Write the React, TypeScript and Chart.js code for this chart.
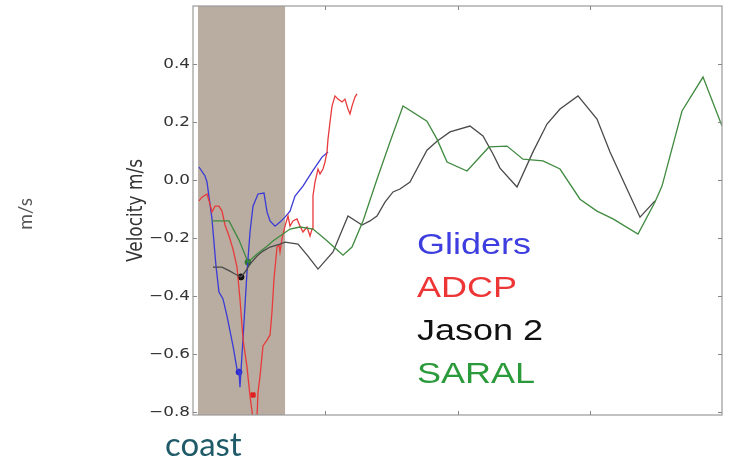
import React, { useEffect, useRef } from "react";
import { Chart, registerables } from "chart.js";

Chart.register(...registerables);

// Distance along section (arbitrary km, 0..100) and velocity (m/s)
const glidersX = [1.13, 2.27, 2.65, 3.59, 4.35, 4.91, 5.67, 6.43, 7.56, 8.32, 8.7, 8.88, 9.45, 10.21, 10.78, 11.34, 12.29, 13.42, 13.99, 14.56, 15.5, 16.45, 17.39, 18.34, 19.28, 20.79, 22.5, 24.39, 25.52];
const glidersY = [0.045, 0.014, -0.007, -0.134, -0.297, -0.386, -0.41, -0.469, -0.572, -0.652, -0.662, -0.714, -0.548, -0.317, -0.179, -0.09, -0.048, -0.045, -0.11, -0.141, -0.159, -0.145, -0.128, -0.107, -0.055, -0.021, 0.028, 0.079, 0.097];

const adcpX = [1.13, 1.7, 2.65, 3.21, 3.59, 4.16, 4.91, 5.48, 6.05, 6.81, 7.56, 8.32, 8.88, 9.45, 10.21, 10.78, 11.34, 12.1, 12.29, 12.67, 13.23, 13.99, 14.56, 14.93, 15.31, 15.88, 16.26, 16.45, 16.82, 17.39, 17.96, 18.34, 18.9, 19.66, 20.23, 20.79, 21.55, 22.12, 22.5, 22.68, 23.06, 23.63, 24.01, 24.57, 24.95, 25.33, 25.52, 25.9, 26.28, 26.84, 27.41, 28.17, 28.73, 29.3, 29.68, 30.06, 30.62, 31.0];
const adcpY = [-0.072, -0.059, -0.048, -0.083, -0.11, -0.09, -0.09, -0.107, -0.155, -0.193, -0.238, -0.3, -0.41, -0.548, -0.645, -0.745, -0.824, -0.817, -0.731, -0.676, -0.572, -0.552, -0.534, -0.455, -0.341, -0.231, -0.224, -0.248, -0.203, -0.159, -0.124, -0.159, -0.141, -0.134, -0.159, -0.179, -0.162, -0.193, -0.169, -0.055, -0.007, 0.038, 0.021, 0.038, 0.062, 0.097, 0.141, 0.2, 0.255, 0.29, 0.279, 0.269, 0.279, 0.245, 0.228, 0.255, 0.286, 0.297];

const jasonX = [3.78, 5.48, 6.99, 7.94, 9.07, 9.83, 10.78, 12.1, 13.23, 14.56, 16.45, 17.39, 19.85, 21.74, 23.63, 26.47, 29.3, 31.95, 33.46, 34.78, 36.29, 37.81, 39.13, 41.02, 42.53, 44.23, 46.12, 48.58, 52.36, 54.82, 56.71, 58.03, 61.25, 64.27, 66.92, 69.38, 72.78, 76.37, 78.83, 82.04, 84.5, 87.33];
const jasonY = [-0.3, -0.3, -0.314, -0.324, -0.334, -0.317, -0.29, -0.262, -0.245, -0.231, -0.221, -0.214, -0.221, -0.262, -0.307, -0.248, -0.124, -0.155, -0.141, -0.124, -0.076, -0.041, -0.031, -0.007, 0.045, 0.103, 0.134, 0.166, 0.186, 0.152, 0.09, 0.041, -0.024, 0.097, 0.193, 0.245, 0.29, 0.21, 0.097, -0.031, -0.128, -0.072];

const saralX = [3.59, 6.81, 8.7, 10.4, 12.1, 13.99, 15.12, 16.45, 18.34, 20.23, 22.68, 24.95, 26.84, 28.36, 30.06, 32.14, 34.78, 37.24, 39.7, 44.23, 46.12, 48.02, 51.8, 55.95, 59.36, 62.38, 66.16, 69.38, 73.16, 76.37, 79.4, 84.12, 87.33, 88.66, 92.44, 96.41, 100.0];
const saralY = [-0.141, -0.141, -0.207, -0.283, -0.255, -0.228, -0.21, -0.193, -0.169, -0.162, -0.169, -0.203, -0.234, -0.259, -0.231, -0.141, 0.003, 0.131, 0.255, 0.203, 0.141, 0.062, 0.031, 0.114, 0.117, 0.072, 0.066, 0.038, -0.066, -0.107, -0.134, -0.186, -0.076, -0.021, 0.238, 0.355, 0.186];

// Highlighted points (coastal minima)
const glidersMarker = [{ x: 8.7, y: -0.662 }];
const adcpMarker = [{ x: 11.34, y: -0.741 }];
const jasonMarker = [{ x: 9.07, y: -0.334 }];
const saralMarker = [{ x: 10.4, y: -0.283 }];

// Coastal zone (shaded)
const coastStart = 0.95;
const coastEnd = 17.4;

const yTicks = [0.4, 0.2, 0.0, -0.2, -0.4, -0.6, -0.8];
const xTicks = [25, 50, 75];
const legendNames = ["Gliders", "ADCP", "Jason 2", "SARAL"];
const legendColors = ["#3d3de0", "#ee3535", "#111111", "#2a9a3a"];

const X_MIN = 0;
const X_MAX = 100;
const Y_MIN = -0.81;
const Y_MAX = 0.6;

const SX = 1.2; // horizontal stretch of figure text

function zip(xs: number[], ys: number[]) {
  return xs.map((x, i) => ({ x, y: ys[i] }));
}

function drawText(
  ctx: CanvasRenderingContext2D,
  s: string,
  x: number,
  y: number,
  font: string,
  color: string,
  align: CanvasTextAlign,
  baseline: CanvasTextBaseline,
  sx: number,
  rot = 0
) {
  ctx.save();
  ctx.translate(x, y);
  ctx.scale(sx, 1);
  if (rot) ctx.rotate(rot);
  ctx.font = font;
  ctx.fillStyle = color;
  ctx.textAlign = align;
  ctx.textBaseline = baseline;
  ctx.fillText(s, 0, 0);
  ctx.restore();
}

const figurePlugin = {
  id: "figure",
  beforeDatasetsDraw(chart: any) {
    const { ctx, chartArea, scales } = chart;
    const x0 = scales.x.getPixelForValue(coastStart);
    const x1 = scales.x.getPixelForValue(coastEnd);
    ctx.save();
    ctx.fillStyle = "#b9ada1";
    ctx.fillRect(x0, chartArea.top, x1 - x0, chartArea.bottom - chartArea.top);
    ctx.restore();
  },
  afterDatasetsDraw(chart: any) {
    const { ctx, chartArea, scales } = chart;
    const { left, right, top, bottom } = chartArea;
    ctx.save();
    // frame
    ctx.strokeStyle = "#9a9a9a";
    ctx.lineWidth = 1.2;
    ctx.strokeRect(left, top, right - left, bottom - top);
    // inner tick marks
    ctx.strokeStyle = "#888";
    ctx.lineWidth = 1;
    yTicks.forEach((v) => {
      const y = Math.round(scales.y.getPixelForValue(v)) + 0.5;
      ctx.beginPath();
      ctx.moveTo(left, y);
      ctx.lineTo(left + 4, y);
      ctx.moveTo(right, y);
      ctx.lineTo(right - 4, y);
      ctx.stroke();
    });
    xTicks.forEach((v) => {
      const x = Math.round(scales.x.getPixelForValue(v)) + 0.5;
      ctx.beginPath();
      ctx.moveTo(x, top);
      ctx.lineTo(x, top + 4);
      ctx.moveTo(x, bottom);
      ctx.lineTo(x, bottom - 4);
      ctx.stroke();
    });
    ctx.restore();

    // tick labels
    yTicks.forEach((v) => {
      const y = scales.y.getPixelForValue(v);
      const label = (v < 0 ? "\u2212" : "") + Math.abs(v).toFixed(1);
      drawText(ctx, label, left - 3, y, "14px 'DejaVu Sans', sans-serif", "#333", "right", "middle", SX);
    });

    // axis title
    const yc = (top + bottom) / 2;
    drawText(ctx, "Velocity m/s", 137, yc, "17px 'DejaVu Sans', sans-serif", "#333", "center", "middle", SX, -Math.PI / 2);

    // legend text
    const legendBase = [254, 297, 340, 383];
    legendNames.forEach((n, i) => {
      drawText(ctx, n, 417, legendBase[i], "30px 'Liberation Sans', Arial, sans-serif", legendColors[i], "left", "alphabetic", SX);
    });

    // slide annotations
    drawText(ctx, "m/s", 26, 214, "19px Lato, 'Open Sans', sans-serif", "#555", "center", "middle", 1, -Math.PI / 2);
    drawText(ctx, "coast", 165, 456, "33px Lato, 'Open Sans', sans-serif", "#1f5a68", "left", "alphabetic", 1);
  },
};

export default function App() {
  const ref = useRef<HTMLCanvasElement | null>(null);

  useEffect(() => {
    if (!ref.current) return;
    const lineDs = (label: string, data: any[], color: string) => ({
      label,
      data,
      borderColor: color,
      backgroundColor: color,
      borderWidth: 1.3,
      pointRadius: 0,
      tension: 0,
      fill: false,
    });
    const markDs = (label: string, data: any[], color: string, style: string) => ({
      label,
      data,
      borderColor: color,
      backgroundColor: color,
      showLine: false,
      pointRadius: 3,
      pointStyle: style,
      borderWidth: 1,
    });
    const chart = new Chart(ref.current, {
      type: "line",
      data: {
        datasets: [
          lineDs("SARAL", zip(saralX, saralY), "#3f8a3f"),
          lineDs("Jason 2", zip(jasonX, jasonY), "#4a4a4a"),
          lineDs("ADCP", zip(adcpX, adcpY), "#e83a3a"),
          lineDs("Gliders", zip(glidersX, glidersY), "#3a3ad6"),
          markDs("SARAL mark", saralMarker, "#2f7a2f", "circle"),
          markDs("Jason mark", jasonMarker, "#111", "circle"),
          markDs("ADCP mark", adcpMarker, "#e02020", "rect"),
          markDs("Gliders mark", glidersMarker, "#2a2ad0", "circle"),
        ] as any,
      },
      options: {
        animation: false,
        responsive: true,
        maintainAspectRatio: false,
        layout: { padding: { left: 193, right: 8, top: 6, bottom: 44 } },
        plugins: { legend: { display: false }, tooltip: { enabled: false } },
        scales: {
          x: { type: "linear", min: X_MIN, max: X_MAX, display: false },
          y: { type: "linear", min: Y_MIN, max: Y_MAX, display: false },
        },
      },
      plugins: [figurePlugin],
    });
    return () => chart.destroy();
  }, []);

  return (
    <div style={{ position: "fixed", left: 0, top: 0, width: 730, height: 459, background: "#fff" }}>
      <canvas ref={ref} />
    </div>
  );
}
